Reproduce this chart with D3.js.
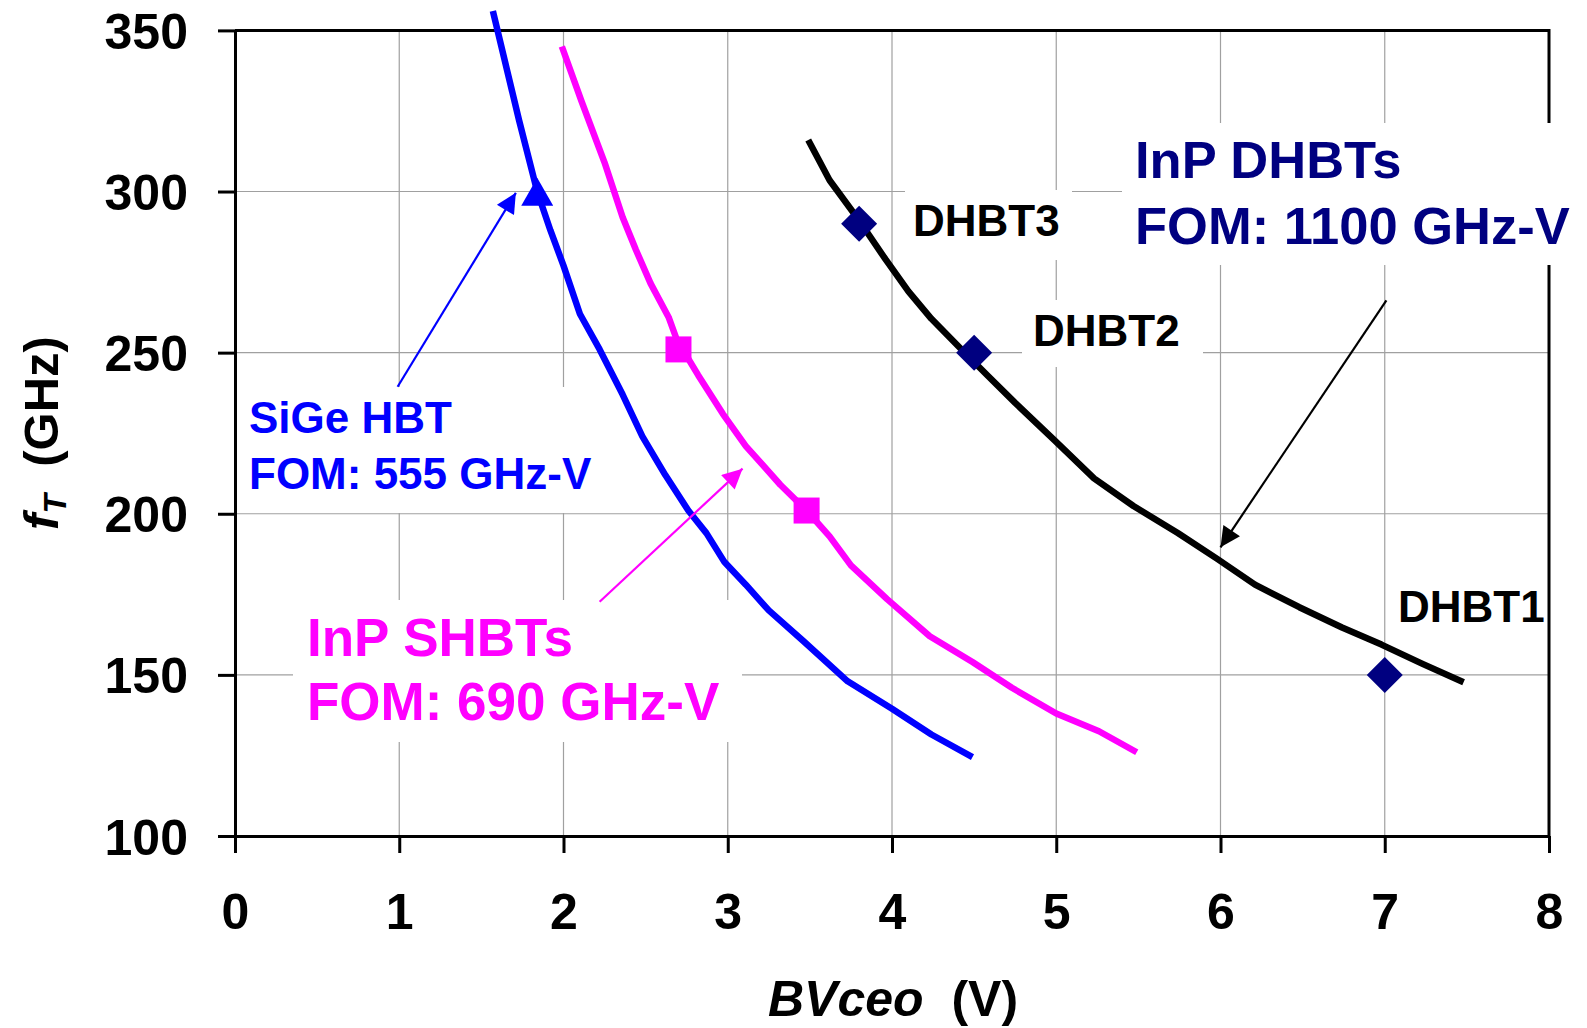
<!DOCTYPE html>
<html>
<head>
<meta charset="utf-8">
<title>fT vs BVceo</title>
<script src="https://cdnjs.cloudflare.com/ajax/libs/d3/7.8.5/d3.min.js"></script>
<style>
body { margin: 0; background: #fff; }
text { font-family: "Liberation Sans", Arial, sans-serif; font-weight: bold; }
.grid line { stroke: #a0a0a0; stroke-width: 1.2; }
.axis path, .axis line { stroke: #000; stroke-width: 3; }
.axis text { font-size: 50px; fill: #000; }
</style>
</head>
<body>
<div id="chart"></div>
<script>
// ticks
var xTicks = [0, 1, 2, 3, 4, 5, 6, 7, 8];
var yTicks = [100, 150, 200, 250, 300, 350];

// SiGe HBT curve (FOM 555 GHz-V)
var sigeBV = [1.57, 1.73, 1.84, 1.92, 2.0, 2.1, 2.22, 2.36, 2.48, 2.62, 2.76, 2.87, 2.98, 3.11, 3.25, 3.46, 3.73, 4.0, 4.24, 4.49];
var sigeFt = [356, 322, 300, 288, 277, 262, 251, 237, 224, 212, 201, 194, 185, 178, 170, 160.5, 148, 139.5, 131.5, 124.5];

// InP SHBT curve (FOM 690 GHz-V)
var shbtBV = [1.99, 2.11, 2.25, 2.36, 2.44, 2.53, 2.64, 2.69, 2.82, 2.97, 3.11, 3.32, 3.48, 3.62, 3.75, 3.97, 4.23, 4.49, 4.73, 5.0, 5.26, 5.49];
var shbtFt = [345, 328, 309, 292, 282, 271.5, 261, 254, 243, 231, 221, 209, 201, 193, 184, 173.5, 162, 154, 146, 138, 132.5, 126];

// InP DHBT curve (FOM 1100 GHz-V)
var dhbtBV = [3.49, 3.62, 3.8, 3.96, 4.1, 4.24, 4.41, 4.58, 4.75, 4.99, 5.23, 5.47, 5.74, 5.98, 6.21, 6.48, 6.74, 6.98, 7.23, 7.48];
var dhbtFt = [316, 303.5, 291, 279, 269, 260.5, 251.7, 243, 234.4, 222.8, 211, 202.4, 194, 186, 178, 171, 164.7, 159.4, 153.4, 147.7];

// measured devices
var sigeDevBV = [1.84], sigeDevFt = [299.6];
var shbtDevBV = [2.7, 3.48], shbtDevFt = [251, 201];
var dhbtNames = ["DHBT3", "DHBT2", "DHBT1"];
var dhbtDevBV = [3.8, 4.5, 7.0], dhbtDevFt = [290, 250, 150];

// annotation arrows [x1, y1, x2, y2] in data units
var sigeArrow = [0.99, 239.4, 1.71, 299.6];
var shbtArrow = [2.22, 172.7, 3.09, 214];
var dhbtArrow = [7.01, 266.2, 6.0, 189.6];

var W = 1587, H = 1028;
var svg = d3.select("#chart").append("svg").attr("width", W).attr("height", H);

var x = d3.scaleLinear().domain([0, 8]).range([235, 1549]);
var y = d3.scaleLinear().domain([100, 350]).range([836, 30.4]);

// arrow heads
var defs = svg.append("defs");
[["blue", "#0000ff"], ["mag", "#ff00ff"], ["blk", "#000"]].forEach(function (m) {
  defs.append("marker")
    .attr("id", "ah-" + m[0])
    .attr("viewBox", "0 0 10 10")
    .attr("refX", 10).attr("refY", 5)
    .attr("markerUnits", "userSpaceOnUse")
    .attr("markerWidth", 24).attr("markerHeight", 20)
    .attr("orient", "auto")
    .append("path").attr("d", "M0,0 L10,5 L0,10 z").attr("fill", m[1]);
});

// grid
var grid = svg.append("g").attr("class", "grid");
grid.selectAll(".gx").data(xTicks.slice(1, -1)).enter().append("line")
  .attr("x1", d => x(d)).attr("x2", d => x(d)).attr("y1", y(350)).attr("y2", y(100));
grid.selectAll(".gy").data(yTicks.slice(1, -1)).enter().append("line")
  .attr("x1", x(0)).attr("x2", x(8)).attr("y1", d => y(d)).attr("y2", d => y(d));

// frame (top + right)
svg.append("path")
  .attr("d", "M" + x(0) + "," + y(350) + "H" + x(8) + "V" + y(100))
  .attr("fill", "none").attr("stroke", "#000").attr("stroke-width", 3);

// axes
svg.append("g").attr("class", "axis")
  .attr("transform", "translate(0," + y(100) + ")")
  .call(d3.axisBottom(x).tickValues(xTicks).tickSize(17).tickSizeOuter(0).tickPadding(40));
svg.append("g").attr("class", "axis")
  .attr("transform", "translate(" + x(0) + ",0)")
  .call(d3.axisLeft(y).tickValues(yTicks).tickSize(17).tickSizeOuter(0).tickPadding(30));
svg.selectAll(".axis").each(function (d, i) {
  d3.select(this).selectAll(".tick text").attr("dy", i === 0 ? "0.71em" : "0.36em");
});

// white label boxes that hide the grid behind the texts
var boxes = [[238, 387, 607, 513], [293, 600, 742, 742], [905, 190, 1072, 260], [1022, 300, 1203, 367], [1122, 123, 1587, 265]];
svg.selectAll(".box").data(boxes).enter().append("rect")
  .attr("x", d => d[0]).attr("y", d => d[1])
  .attr("width", d => d[2] - d[0]).attr("height", d => d[3] - d[1])
  .attr("fill", "#fff");

// curves
var line = d3.line().x(d => x(d[0])).y(d => y(d[1]));
function curve(bv, ft, color) {
  svg.append("path")
    .datum(d3.zip(bv, ft))
    .attr("d", line)
    .attr("fill", "none").attr("stroke", color)
    .attr("stroke-width", 6.5).attr("stroke-linejoin", "round");
}
curve(sigeBV, sigeFt, "#0000ff");
curve(shbtBV, shbtFt, "#ff00ff");
curve(dhbtBV, dhbtFt, "#000");

// markers
svg.selectAll(".tri").data(d3.zip(sigeDevBV, sigeDevFt)).enter().append("path")
  .attr("transform", d => "translate(" + x(d[0]) + "," + y(d[1]) + ")")
  .attr("d", "M0,-15 L16,13 L-16,13 Z").attr("fill", "#0000ff");
svg.selectAll(".sq").data(d3.zip(shbtDevBV, shbtDevFt)).enter().append("rect")
  .attr("x", d => x(d[0]) - 13).attr("y", d => y(d[1]) - 13)
  .attr("width", 26).attr("height", 26).attr("fill", "#ff00ff");
svg.selectAll(".dia").data(d3.zip(dhbtDevBV, dhbtDevFt)).enter().append("path")
  .attr("transform", d => "translate(" + x(d[0]) + "," + y(d[1]) + ")")
  .attr("d", "M0,-18 L18,0 L0,18 L-18,0 Z").attr("fill", "#000080");

// arrows
function arrow(a, color, id) {
  svg.append("line")
    .attr("x1", x(a[0])).attr("y1", y(a[1])).attr("x2", x(a[2])).attr("y2", y(a[3]))
    .attr("stroke", color).attr("stroke-width", 2.2)
    .attr("marker-end", "url(#ah-" + id + ")");
}
arrow(sigeArrow, "#0000ff", "blue");
arrow(shbtArrow, "#ff00ff", "mag");
arrow(dhbtArrow, "#000", "blk");

// labels
function label(lines, px, py, dy, size, color) {
  var t = svg.append("text").attr("x", px).attr("y", py)
    .attr("font-size", size).attr("fill", color);
  lines.forEach(function (s, i) {
    t.append("tspan").attr("x", px).attr("y", py + i * dy).text(s);
  });
}
label(["SiGe HBT", "FOM: 555 GHz-V"], 249, 433, 56, 44, "#0000ff");
label(["InP SHBTs", "FOM: 690 GHz-V"], 307, 656, 64, 53, "#ff00ff");
label(["InP DHBTs", "FOM: 1100 GHz-V"], 1135, 178, 66, 52.5, "#000080");
var nameX = [913, 1033, 1398], nameY = [236, 346, 622];
dhbtNames.forEach(function (n, i) {
  svg.append("text").attr("x", nameX[i]).attr("y", nameY[i])
    .attr("font-size", 44).attr("fill", "#000").text(n);
});

// axis titles
var xt = svg.append("text").attr("x", 893).attr("y", 1016)
  .attr("text-anchor", "middle").attr("font-size", 50);
xt.append("tspan").attr("font-style", "italic").text("BVceo");
xt.append("tspan").text("\u00a0\u00a0(V)");

var yt = svg.append("text").attr("transform", "translate(58,433) rotate(-90)")
  .attr("text-anchor", "middle").attr("font-size", 49);
yt.append("tspan").attr("font-style", "italic").text("f");
yt.append("tspan").attr("font-style", "italic").attr("font-size", 32).attr("dy", 8).text("T");
yt.append("tspan").attr("dy", -8).text("\u00a0\u00a0(GHz)");
</script>
</body>
</html>
